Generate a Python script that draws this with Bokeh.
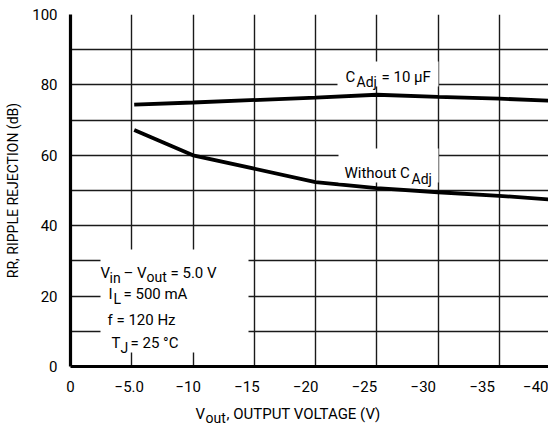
from bokeh.plotting import figure
from bokeh.layouts import column
from bokeh.models import Range1d, FixedTicker, Label, BoxAnnotation
from bokeh.embed import file_html
from bokeh.resources import INLINE

# ---------------- data ----------------
vout_cadj = [-5.2, -10, -20, -25, -30, -35, -40]
rr_cadj = [74.4, 75.0, 76.4, 77.2, 76.6, 76.1, 75.4]

vout_without = [-5.2, -10, -20, -25, -30, -35, -40]
rr_without = [67.2, 60.0, 52.4, 50.7, 49.5, 48.5, 47.2]

x_ticks = [0, -5, -10, -15, -20, -25, -30, -35, -40]
x_tick_labels = ["0", "\u22125.0", "\u221210", "\u221215", "\u221220",
                 "\u221225", "\u221230", "\u221235", "\u221240"]
y_ticks = [0, 20, 40, 60, 80, 100]
y_grid = [10, 20, 30, 40, 50, 60, 70, 80, 90, 100]

# ---------------- layout / style ----------------
FONT = "Roboto"
FS = "15px"
SUB = "14px"
TITLE_FS = "14px"
XTITLE_FS = "15px"
LABEL_DRIFT = 0.96   # tick labels in the original sit slightly off their grid lines

W, H = 548, 424
FRAME_L, FRAME_T, FRAME_B, FRAME_R = 70, 14, 366, W   # canvas px
MAIN_H = 396                                          # main figure height; title strip below
PX_PER_V = 12.25
PX_PER_DB = (FRAME_B - FRAME_T) / 100.0


def dx(px):
    return -(px - FRAME_L) / PX_PER_V


def dy(py):
    return (FRAME_B - py) / PX_PER_DB


p = figure(width=W, height=MAIN_H, output_backend="svg", toolbar_location=None,
           x_range=Range1d(0, dx(FRAME_R)), y_range=Range1d(0, 100))
p.min_border_left = FRAME_L
p.min_border_right = 0
p.min_border_top = FRAME_T
p.min_border_bottom = MAIN_H - FRAME_B
p.outline_line_color = None
p.background_fill_color = "white"
p.border_fill_color = "white"

# grids
p.xgrid.ticker = FixedTicker(ticks=x_ticks)
p.ygrid.ticker = FixedTicker(ticks=y_grid)
for g in (p.xgrid, p.ygrid):
    g.grid_line_color = "#1a1a1a"
    g.grid_line_width = 1.4
    g.grid_line_alpha = 1.0

# axes
label_pos = [round(t * LABEL_DRIFT, 3) for t in x_ticks]
p.xaxis.ticker = FixedTicker(ticks=label_pos)
p.xaxis.major_label_overrides = {pos: lab for pos, lab in zip(label_pos, x_tick_labels)}
p.yaxis.ticker = FixedTicker(ticks=y_ticks)
p.yaxis.axis_label = "RR, RIPPLE REJECTION (dB)"
for ax in (p.xaxis, p.yaxis):
    ax.axis_line_width = 3.2
    ax.axis_line_color = "black"
    ax.major_tick_line_color = None
    ax.minor_tick_line_color = None
    ax.major_label_text_font = FONT
    ax.major_label_text_font_size = FS
    ax.major_label_text_color = "black"
    ax.axis_label_text_font = FONT
    ax.axis_label_text_font_size = TITLE_FS
    ax.axis_label_text_font_style = "normal"
    ax.axis_label_text_color = "black"
p.xaxis.major_label_standoff = 8
p.yaxis.major_label_standoff = 7
p.yaxis.axis_label_standoff = 8

# curves
p.line(vout_cadj, rr_cadj, line_color="black", line_width=3.8)
p.line(vout_without, rr_without, line_color="black", line_width=3.8)

# white boxes behind annotation texts
for l, r, t, b in [(337, 438, 61, 86), (338, 438, 148, 182), (100, 248, 249, 352)]:
    p.add_layout(BoxAnnotation(left=dx(l), right=dx(r), top=dy(t), bottom=dy(b),
                               fill_color="white", fill_alpha=1.0, line_color=None))


def txt(fig, s, x, y, size=FS):
    fig.add_layout(Label(x=x, y=y, text=s, text_font=FONT,
                         text_font_size=size, text_color="black",
                         text_baseline="alphabetic", text_align="left"))


def ptxt(s, px, py, size=FS):
    txt(p, s, dx(px), dy(py), size)


# C_Adj = 10 uF
ptxt("C", 345, 76)
ptxt("Adj", 356, 81, SUB)
ptxt("= 10  \u00b5F", 381, 76)
# Without C_Adj
ptxt("Without C", 344, 172)
ptxt("Adj", 411, 178, SUB)
# conditions
ptxt("V", 100, 272)
ptxt("in", 109, 277, SUB)
ptxt("\u2013 V", 123, 272)
ptxt("out", 146, 276, SUB)
ptxt("= 5.0 V", 170, 272)
ptxt("I", 108, 293)
ptxt("L", 113, 298, SUB)
ptxt("= 500 mA", 123, 293)
ptxt("f = 120 Hz", 107, 319)
ptxt("T", 111, 342)
ptxt("J", 120, 347, SUB)
ptxt("= 25 \u00b0C", 130, 342)

# x-axis title strip: its frame is aligned with the main frame, coordinates in canvas px
t = figure(width=W, height=H - MAIN_H, output_backend="svg", toolbar_location=None,
           x_range=Range1d(FRAME_L, W), y_range=Range1d(H, MAIN_H),
           x_axis_type=None, y_axis_type=None)
t.min_border_left = FRAME_L
t.min_border_right = t.min_border_top = t.min_border_bottom = 0
t.outline_line_color = None
t.xgrid.visible = False
t.ygrid.visible = False
txt(t, "V", 195, 413, XTITLE_FS)
txt(t, "out", 205, 417, SUB)
txt(t, ", OUTPUT VOLTAGE (V)", 226, 413, XTITLE_FS)

layout = column(p, t, spacing=0)
open("out.html", "w").write(file_html(layout, INLINE))
